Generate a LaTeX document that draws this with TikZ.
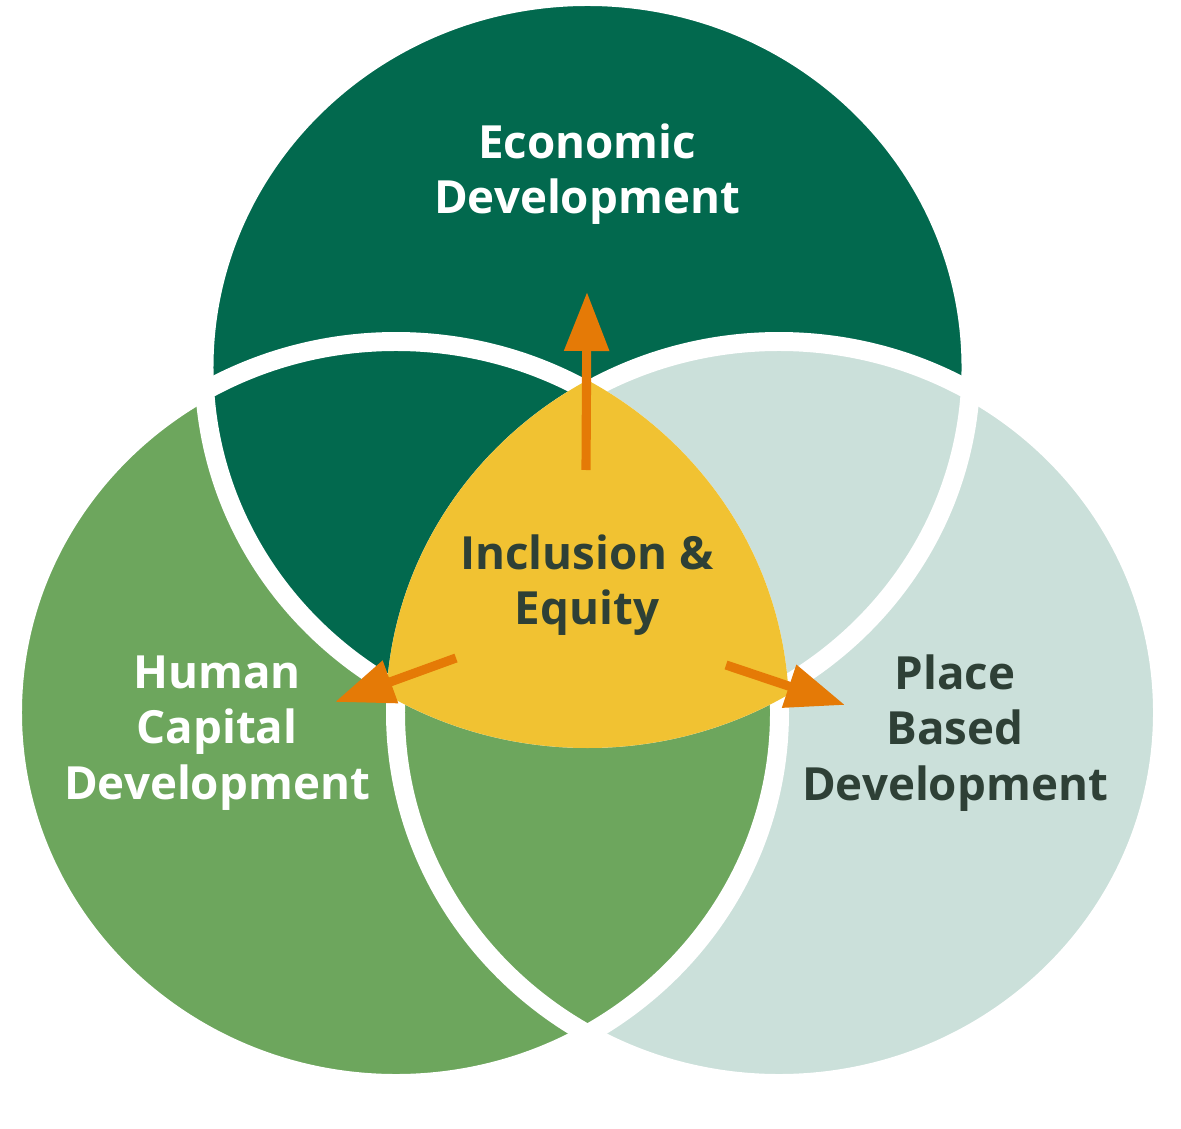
\documentclass[tikz,border=0pt]{standalone}
\usepackage{fontspec}
\setmainfont{Open Sans}
\usetikzlibrary{arrows.meta,positioning}
\definecolor{econgreen}{RGB}{2,105,78}
\definecolor{humangreen}{RGB}{109,166,93}
\definecolor{placegray}{RGB}{203,224,218}
\definecolor{equityyellow}{RGB}{241,194,50}
\definecolor{arroworange}{RGB}{229,122,6}
\definecolor{textdark}{RGB}{46,64,54}
\def\rx{3.835}
\def\ry{3.71}
\begin{document}
\begin{tikzpicture}[
  ring/.style={draw=white, line width=5.4pt},
  lbl/.style={font=\bfseries\fontsize{13}{15.7}\selectfont, align=center},
  flow/.style={-{Triangle[length=5.9mm,width=4.3mm]}, line width=2.6pt, arroworange}]
\useasboundingbox (0,0) rectangle (11.81,11.28);
% circle centres
\coordinate (cE) at (5.875,7.605);
\coordinate (cH) at (3.96,4.155);
\coordinate (cP) at (7.79,4.155);
% fills
\fill[humangreen] (cH) ellipse [x radius=\rx, y radius=\ry];
\fill[econgreen] (cE) ellipse [x radius=\rx, y radius=\ry];
\fill[placegray] (cP) ellipse [x radius=\rx, y radius=\ry];
\begin{scope}
  \clip (cP) ellipse [x radius=\rx, y radius=\ry];
  \fill[humangreen] (cH) ellipse [x radius=\rx, y radius=\ry];
\end{scope}
% white rings
\foreach \c in {cE,cH,cP}
  \draw[ring] (\c) ellipse [x radius=\rx, y radius=\ry];
% centre
\begin{scope}
  \clip (cE) ellipse [x radius=\rx+0.095, y radius=\ry+0.095];
  \clip (cH) ellipse [x radius=\rx+0.095, y radius=\ry+0.095];
  \fill[equityyellow] (cP) ellipse [x radius=\rx+0.095, y radius=\ry+0.095];
\end{scope}
% labels
\node[lbl, white] (econ) at (5.87,9.54) {Economic\\Development};
\node[lbl, textdark] (equity) at (5.87,5.43) {Inclusion \&\\Equity};
\node[lbl, white] (human) at (2.17,3.95) {Human\\Capital\\Development};
\node[lbl, textdark] (place) at (9.55,3.95) {Place\\Based\\Development};
% arrows
\coordinate (upS) at (5.86,6.58);
\coordinate (upE) at (5.87,8.36);
\coordinate (lfS) at (4.56,4.70);
\coordinate (lfE) at (3.35,4.26);
\coordinate (rtS) at (7.26,4.63);
\coordinate (rtE) at (8.45,4.23);
\draw[flow] (upS) -- (upE);
\draw[flow] (lfS) -- (lfE);
\draw[flow] (rtS) -- (rtE);
\end{tikzpicture}
\end{document}
